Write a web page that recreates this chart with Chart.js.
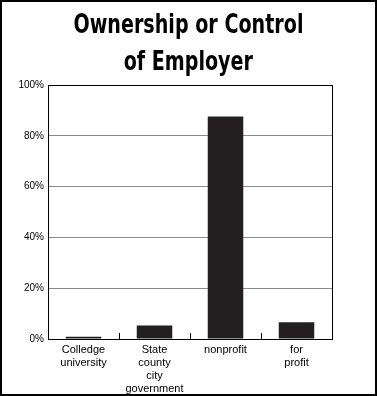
<!DOCTYPE html>
<html>
<head>
<meta charset="utf-8">
<script src="https://cdn.jsdelivr.net/npm/chart.js@4"></script>
<style>
  html, body { margin: 0; padding: 0; background: #fff; }
  .frame {
    position: relative;
    width: 373px; height: 392px;
    border: 2px solid #000;
    overflow: hidden;
  }
  .title {
    position: absolute;
    left: 0; top: 3px; width: 373px;
    text-align: center;
    font-family: "DejaVu Sans", sans-serif;
    font-weight: bold;
    font-size: 27px;
    line-height: 37px;
    color: #000;
    z-index: 2;
  }
  .title span { display: inline-block; transform-origin: center; white-space: nowrap; }
  canvas { position: absolute; left: 0; top: 0; }
</style>
</head>
<body>
<div class="frame">
  <div class="title"><span id="t1">Ownership or Control</span><br><span id="t2">of Employer</span></div>
  <canvas id="ownerChart" width="373" height="392"></canvas>
</div>
<script>
const categories = [
  ['Colledge', 'university'],
  ['State', 'county', 'city', 'government'],
  ['nonprofit'],
  ['for', 'profit']
];
const shares = [0.9, 5.3, 87.6, 6.6];
const yTicks = [0, 20, 40, 60, 80, 100];

// squeeze the title into a condensed look, like the original
const t1 = document.getElementById('t1');
const squeeze = 230 / t1.getBoundingClientRect().width;
t1.style.transform = 'scaleX(' + squeeze + ')';
document.getElementById('t2').style.transform = 'scaleX(' + squeeze + ')';

// black box around the plot and small ticks between categories
const frameBox = {
  id: 'frameBox',
  afterDraw(chart) {
    const ctx = chart.ctx;
    const a = chart.chartArea;
    const x = chart.scales.x;
    ctx.save();
    ctx.strokeStyle = '#000';
    ctx.lineWidth = 1;
    ctx.strokeRect(Math.round(a.left) + 0.5, Math.round(a.top) + 0.5,
      Math.round(a.right - a.left), Math.round(a.bottom - a.top));
    for (let i = 0; i < categories.length - 1; i++) {
      const px = Math.round((x.getPixelForValue(i) + x.getPixelForValue(i + 1)) / 2) + 0.5;
      ctx.beginPath();
      ctx.moveTo(px, a.bottom);
      ctx.lineTo(px, a.bottom - 6);
      ctx.stroke();
    }
    ctx.restore();
  }
};

new Chart(document.getElementById('ownerChart'), {
  type: 'bar',
  data: {
    labels: categories,
    datasets: [{
      data: shares,
      backgroundColor: '#231f20',
      barPercentage: 0.5,
      categoryPercentage: 1
    }]
  },
  options: {
    responsive: false,
    animation: false,
    layout: { padding: { top: 83, right: 43, left: 0, bottom: 0 } },
    plugins: { legend: { display: false }, tooltip: { enabled: false } },
    scales: {
      x: {
        grid: { display: false, drawTicks: false },
        border: { color: '#000' },
        ticks: {
          color: '#000',
          font: { family: 'Liberation Sans', size: 11, lineHeight: 1.2 },
          padding: 4,
          maxRotation: 0
        },
        afterFit(scale) { scale.height = 55; }
      },
      y: {
        min: 0, max: 100,
        afterBuildTicks(scale) { scale.ticks = yTicks.map(v => ({ value: v })); },
        grid: { color: '#8a8a8a', drawTicks: false },
        border: { color: '#000' },
        ticks: {
          color: '#000',
          font: { family: 'Liberation Sans', size: 10 },
          padding: 4,
          callback: v => v + '%'
        },
        afterFit(scale) { scale.width = 46; }
      }
    }
  },
  plugins: [frameBox]
});
</script>
</body>
</html>
